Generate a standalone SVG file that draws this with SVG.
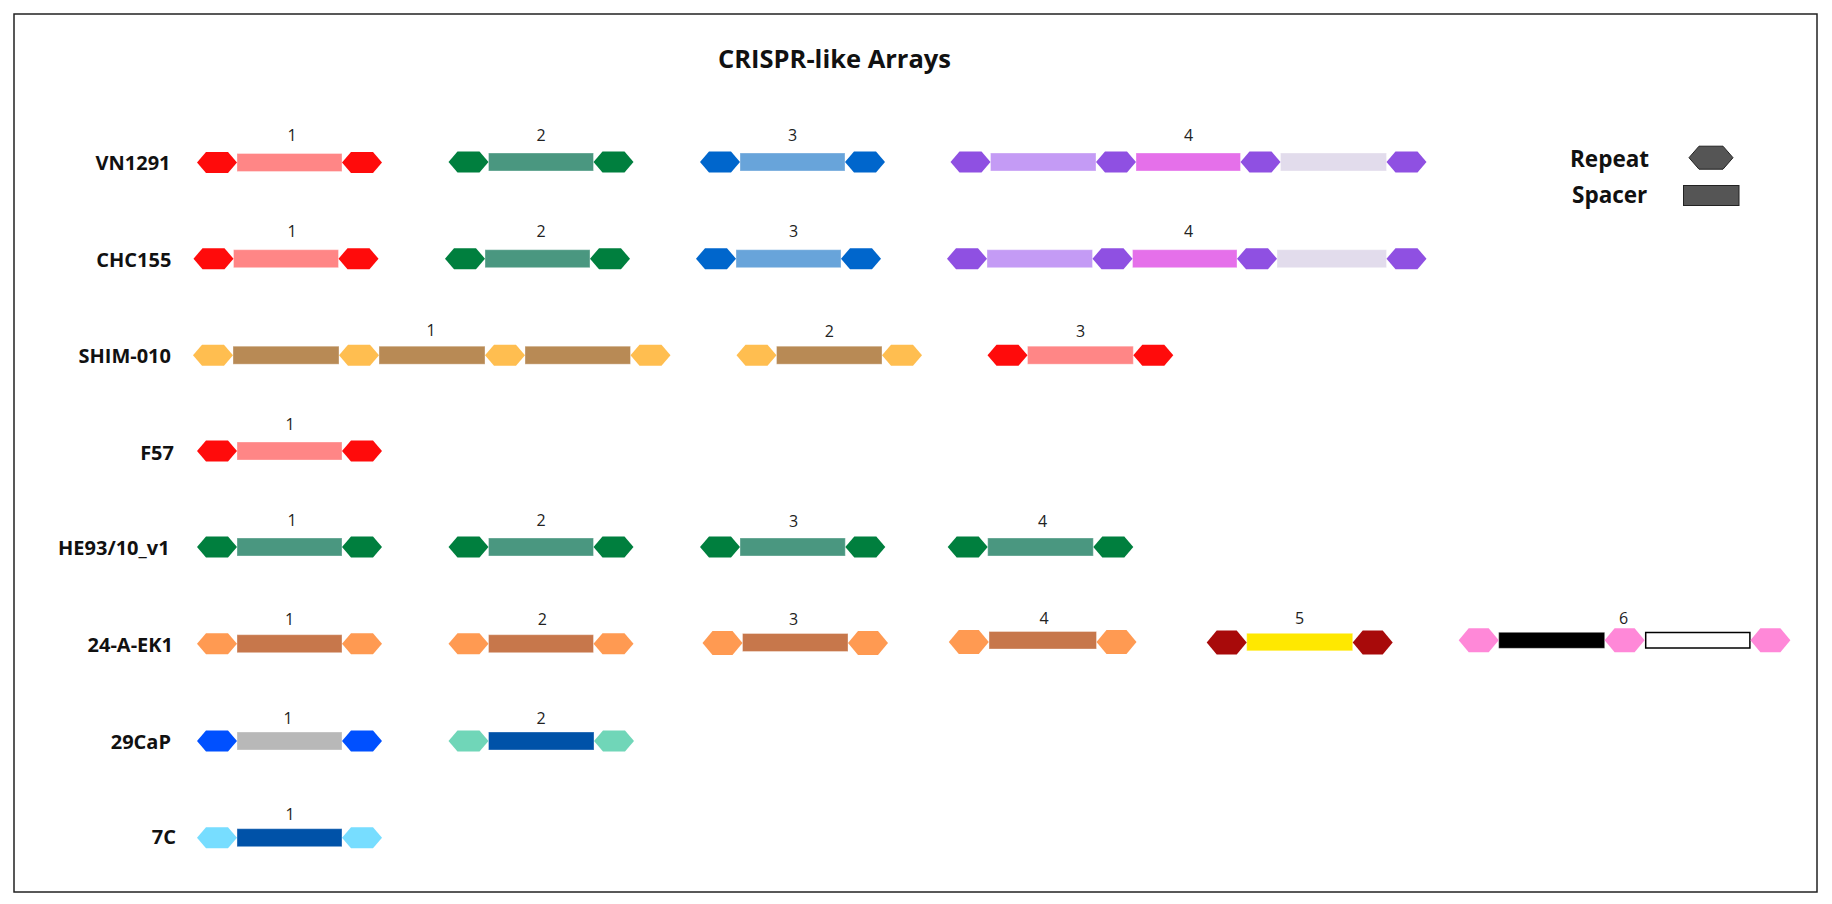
<svg xmlns="http://www.w3.org/2000/svg" xmlns:xlink="http://www.w3.org/1999/xlink" width="1832" height="904" viewBox="0 0 1832 904">
<style>
.title{font-family:"Open Sans","Noto Sans",sans-serif;font-weight:bold;font-size:25.5px;fill:#111}
.name{font-family:"Open Sans","Noto Sans",sans-serif;font-weight:bold;font-size:20px;fill:#111;text-anchor:end}
.num{font-family:"Open Sans","Noto Sans",sans-serif;font-size:16px;fill:#222;text-anchor:middle}
.leg{font-family:"Open Sans","Noto Sans",sans-serif;font-weight:bold;font-size:22.5px;fill:#111}
rect.sp{stroke:#ffffff;stroke-opacity:0.35;stroke-width:1}
.r-red{fill:#FF0B0B}.s-red{fill:#FF8686}
.r-grn{fill:#007F3E}.s-grn{fill:#4A9780}
.r-blu{fill:#0066CC}.s-blu{fill:#68A4DA}
.r-pur{fill:#8F50E2}.s-lav{fill:#C49BF5}.s-mag{fill:#E570EA}.s-lil{fill:#E2DCEC}
.r-yel{fill:#FFBE50}.s-brn{fill:#B88A55}
.r-org{fill:#FF9A52}.s-cop{fill:#C7774B}
.r-dred{fill:#A80A0A}.s-ylw{fill:#FFE800}
.r-pnk{fill:#FF88D8}.s-blk{fill:#000000}
rect.s-wht{fill:#ffffff;stroke:#000;stroke-opacity:1;stroke-width:1.5}
.r-roy{fill:#0050FF}.s-gry{fill:#B8B8B8}
.r-tea{fill:#70D6B8}.s-nav{fill:#0052A8}
.r-cya{fill:#77DDFF}
</style>
<defs>
<polygon id="hx" points="-20,0 -11,-10.5 11,-10.5 20,0 11,10.5 -11,10.5"/>
<polygon id="hxT" points="-20,0 -10,-12 10,-12 20,0 10,12 -10,12"/>
</defs>
<rect x="0" y="0" width="1832" height="904" fill="#ffffff"/>
<rect x="14" y="14" width="1803" height="878" fill="none" stroke="#222" stroke-width="1.5"/>
<text class="title" x="718" y="68">CRISPR-like Arrays</text>

<g id="legend">
<text class="leg" x="1570" y="166.5">Repeat</text>
<polygon points="1689,157.7 1699,146.2 1723,146.2 1733,157.7 1723,169.2 1699,169.2" fill="#555" stroke="#222" stroke-width="1"/>
<text class="leg" x="1572" y="202.5">Spacer</text>
<rect x="1683.5" y="185.5" width="55.5" height="20" fill="#555" stroke="#222" stroke-width="1"/>
</g>

<g id="row-VN1291">
<text class="name" x="170.5" y="170">VN1291</text>
<g id="VN1291-1">
<rect class="sp s-red" x="237" y="153.5" width="105" height="18"/>
<use href="#hx" x="217" y="162.5" class="r-red"/><use href="#hx" x="362" y="162.5" class="r-red"/>
<text class="num" x="292" y="141">1</text></g>
<g id="VN1291-2">
<rect class="sp s-grn" x="488.5" y="153" width="105" height="18"/>
<use href="#hx" x="468.5" y="162" class="r-grn"/><use href="#hx" x="613.5" y="162" class="r-grn"/>
<text class="num" x="541" y="141">2</text></g>
<g id="VN1291-3">
<rect class="sp s-blu" x="740" y="153" width="105" height="18"/>
<use href="#hx" x="720" y="162" class="r-blu"/><use href="#hx" x="865" y="162" class="r-blu"/>
<text class="num" x="792.5" y="141">3</text></g>
<g id="VN1291-4">
<rect class="sp s-lav" x="990.5" y="153" width="105.5" height="18"/>
<rect class="sp s-mag" x="1136" y="153" width="104.5" height="18"/>
<rect class="sp s-lil" x="1280.5" y="153" width="106" height="18"/>
<use href="#hx" x="970.5" y="162" class="r-pur"/><use href="#hx" x="1116" y="162" class="r-pur"/>
<use href="#hx" x="1260.5" y="162" class="r-pur"/><use href="#hx" x="1406.5" y="162" class="r-pur"/>
<text class="num" x="1188.5" y="141">4</text></g>
</g>

<g id="row-CHC155">
<text class="name" x="171.4" y="266.5">CHC155</text>
<g id="CHC155-1">
<rect class="sp s-red" x="233.5" y="249.7" width="105" height="18"/>
<use href="#hx" x="213.5" y="258.7" class="r-red"/><use href="#hx" x="358.5" y="258.7" class="r-red"/>
<text class="num" x="292" y="236.5">1</text></g>
<g id="CHC155-2">
<rect class="sp s-grn" x="485" y="249.7" width="105" height="18"/>
<use href="#hx" x="465" y="258.7" class="r-grn"/><use href="#hx" x="610" y="258.7" class="r-grn"/>
<text class="num" x="541" y="236.5">2</text></g>
<g id="CHC155-3">
<rect class="sp s-blu" x="736" y="249.7" width="105" height="18"/>
<use href="#hx" x="716" y="258.7" class="r-blu"/><use href="#hx" x="861" y="258.7" class="r-blu"/>
<text class="num" x="793.7" y="236.5">3</text></g>
<g id="CHC155-4">
<rect class="sp s-lav" x="987" y="249.7" width="105.5" height="18"/>
<rect class="sp s-mag" x="1132.5" y="249.7" width="104.5" height="18"/>
<rect class="sp s-lil" x="1277" y="249.7" width="109.5" height="18"/>
<use href="#hx" x="967" y="258.7" class="r-pur"/><use href="#hx" x="1112.5" y="258.7" class="r-pur"/>
<use href="#hx" x="1257" y="258.7" class="r-pur"/><use href="#hx" x="1406.5" y="258.7" class="r-pur"/>
<text class="num" x="1188.5" y="236.5">4</text></g>
</g>

<g id="row-SHIM-010">
<text class="name" x="171" y="363.2">SHIM-010</text>
<g id="SHIM-010-1">
<rect class="sp s-brn" x="233" y="346.2" width="106" height="18"/>
<rect class="sp s-brn" x="379" y="346.2" width="106" height="18"/>
<rect class="sp s-brn" x="525" y="346.2" width="105.5" height="18"/>
<use href="#hx" x="213" y="355.2" class="r-yel"/><use href="#hx" x="359" y="355.2" class="r-yel"/>
<use href="#hx" x="505" y="355.2" class="r-yel"/><use href="#hx" x="650.5" y="355.2" class="r-yel"/>
<text class="num" x="431" y="336">1</text></g>
<g id="SHIM-010-2">
<rect class="sp s-brn" x="776.5" y="346.2" width="105.5" height="18"/>
<use href="#hx" x="756.5" y="355.2" class="r-yel"/><use href="#hx" x="902" y="355.2" class="r-yel"/>
<text class="num" x="829.3" y="336.7">2</text></g>
<g id="SHIM-010-3">
<rect class="sp s-red" x="1027.5" y="346.2" width="105.8" height="18"/>
<use href="#hx" x="1007.5" y="355.2" class="r-red"/><use href="#hx" x="1153.3" y="355.2" class="r-red"/>
<text class="num" x="1080.7" y="336.7">3</text></g>
</g>

<g id="row-F57">
<text class="name" x="174" y="459.5">F57</text>
<g id="F57-1">
<rect class="sp s-red" x="237" y="442" width="105" height="18"/>
<use href="#hx" x="217" y="451" class="r-red"/><use href="#hx" x="362" y="451" class="r-red"/>
<text class="num" x="290" y="430">1</text></g>
</g>

<g id="row-HE93-10_v1">
<text class="name" x="169.6" y="554.5">HE93/10_v1</text>
<g id="HE93-1">
<rect class="sp s-grn" x="237" y="538" width="105" height="18"/>
<use href="#hx" x="217" y="547" class="r-grn"/><use href="#hx" x="362" y="547" class="r-grn"/>
<text class="num" x="292" y="526">1</text></g>
<g id="HE93-2">
<rect class="sp s-grn" x="488.5" y="538" width="105" height="18"/>
<use href="#hx" x="468.5" y="547" class="r-grn"/><use href="#hx" x="613.5" y="547" class="r-grn"/>
<text class="num" x="541" y="526">2</text></g>
<g id="HE93-3">
<rect class="sp s-grn" x="740" y="538" width="105.3" height="18"/>
<use href="#hx" x="720" y="547" class="r-grn"/><use href="#hx" x="865.3" y="547" class="r-grn"/>
<text class="num" x="793.7" y="526.5">3</text></g>
<g id="HE93-4">
<rect class="sp s-grn" x="987.7" y="538" width="105.6" height="18"/>
<use href="#hx" x="967.7" y="547" class="r-grn"/><use href="#hx" x="1113.3" y="547" class="r-grn"/>
<text class="num" x="1042.7" y="526.5">4</text></g>
</g>

<g id="row-24-A-EK1">
<text class="name" x="173" y="651.5">24-A-EK1</text>
<g id="EK1-1">
<rect class="sp s-cop" x="237" y="634.7" width="105" height="18"/>
<use href="#hx" x="217" y="643.7" class="r-org"/><use href="#hx" x="362" y="643.7" class="r-org"/>
<text class="num" x="289.5" y="625">1</text></g>
<g id="EK1-2">
<rect class="sp s-cop" x="488.5" y="634.7" width="105" height="18"/>
<use href="#hx" x="468.5" y="643.7" class="r-org"/><use href="#hx" x="613.5" y="643.7" class="r-org"/>
<text class="num" x="542.4" y="625">2</text></g>
<g id="EK1-3">
<rect class="sp s-cop" x="742.5" y="633.5" width="105.5" height="18"/>
<use href="#hxT" x="722.5" y="643" class="r-org"/><use href="#hxT" x="868" y="643" class="r-org"/>
<text class="num" x="793.6" y="625">3</text></g>
<g id="EK1-4">
<rect class="sp s-cop" x="989" y="631.5" width="107.5" height="17.5"/>
<use href="#hxT" x="968.8" y="642" class="r-org"/><use href="#hxT" x="1116.5" y="642" class="r-org"/>
<text class="num" x="1044" y="623.5">4</text></g>
<g id="EK1-5">
<rect class="sp s-ylw" x="1246.7" y="633.3" width="106" height="17.5"/>
<use href="#hxT" x="1226.7" y="642.5" class="r-dred"/><use href="#hxT" x="1372.7" y="642.5" class="r-dred"/>
<text class="num" x="1299.6" y="623.5">5</text></g>
<g id="EK1-6">
<rect class="sp s-blk" x="1498.7" y="632.3" width="106" height="16"/>
<rect class="sp s-wht" x="1645.7" y="632.5" width="104.2" height="15.5"/>
<use href="#hxT" x="1478.7" y="640.3" class="r-pnk"/><use href="#hxT" x="1624.6" y="640.3" class="r-pnk"/>
<use href="#hxT" x="1770.4" y="640.3" class="r-pnk"/>
<text class="num" x="1623.6" y="623.5">6</text></g>
</g>

<g id="row-29CaP">
<text class="name" x="171" y="748.9">29CaP</text>
<g id="29CaP-1">
<rect class="sp s-gry" x="237" y="732" width="105" height="18"/>
<use href="#hx" x="217" y="741" class="r-roy"/><use href="#hx" x="362" y="741" class="r-roy"/>
<text class="num" x="288" y="724">1</text></g>
<g id="29CaP-2">
<rect class="sp s-nav" x="488.5" y="732" width="105.5" height="18"/>
<use href="#hx" x="468.5" y="741" class="r-tea"/><use href="#hx" x="614" y="741" class="r-tea"/>
<text class="num" x="541" y="724">2</text></g>
</g>

<g id="row-7C">
<text class="name" x="176" y="843.9">7C</text>
<g id="7C-1">
<rect class="sp s-nav" x="237" y="828.7" width="105" height="18"/>
<use href="#hx" x="217" y="837.7" class="r-cya"/><use href="#hx" x="362" y="837.7" class="r-cya"/>
<text class="num" x="290" y="820">1</text></g>
</g>

<g id="connectors"></g>
</svg>
